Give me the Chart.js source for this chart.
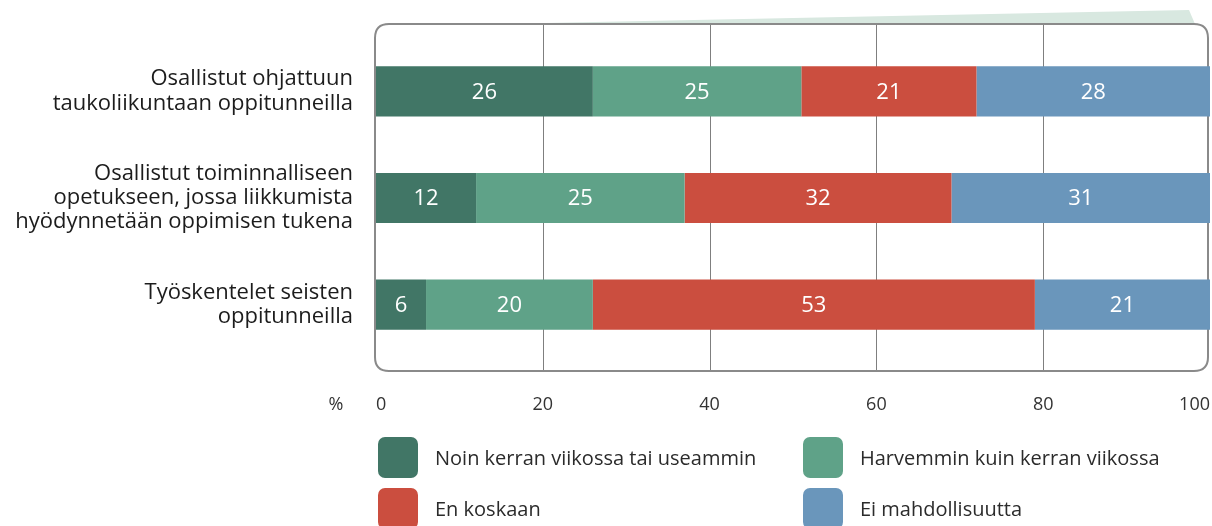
<!DOCTYPE html>
<html>
<head>
<meta charset="utf-8">
<script src="https://cdn.jsdelivr.net/npm/chart.js@4.4.0/dist/chart.umd.min.js"></script>
<style>
  html, body { margin: 0; padding: 0; background: #fff; }
  #wrap { position: relative; width: 1212px; height: 526px; overflow: hidden; }
  #legend {
    position: absolute; left: 378px; top: 437px;
    display: grid; grid-template-columns: 425px 360px; row-gap: 10px;
    font-family: 'Open Sans', sans-serif; font-size: 20px; color: #2b2b2b;
  }
  .lg-item { display: flex; align-items: center; height: 41px; white-space: nowrap; }
  .lg-box { width: 40px; height: 41px; border-radius: 7px; margin-right: 17px; flex: none; }
</style>
</head>
<body>
<div id="wrap">
  <canvas id="chart" width="1212" height="526"></canvas>
  <div id="legend"></div>
</div>
<script>
/* ── Data ── */
const categories = [
  ['Osallistut ohjattuun', 'taukoliikuntaan oppitunneilla'],
  ['Osallistut toiminnalliseen', 'opetukseen, jossa liikkumista', 'hyödynnetään oppimisen tukena'],
  ['Työskentelet seisten', 'oppitunneilla']
];
const seriesNames = [
  'Noin kerran viikossa tai useammin',
  'Harvemmin kuin kerran viikossa',
  'En koskaan',
  'Ei mahdollisuutta'
];
const weeklyOrMore = [26, 12, 6];
const lessThanWeekly = [25, 25, 20];
const never = [21, 32, 53];
const noPossibility = [28, 31, 21];
const xTicks = [0, 20, 40, 60, 80, 100];

const COLORS = ['#417666', '#5fa288', '#cb4e3f', '#6a96bb'];
const FONT = "'Open Sans', sans-serif";

/* ── Frame, wedge, gridlines behind the bars ── */
const framePlugin = {
  id: 'frame',
  beforeDatasetsDraw(chart) {
    const { ctx, chartArea: a, scales: { x } } = chart;
    const top = a.top - 14, bottom = a.bottom + 13;
    const left = a.left - 1, right = a.right - 2, r = 14;

    ctx.save();
    // light green wedge above the frame
    ctx.fillStyle = '#d8e8e0';
    ctx.beginPath();
    ctx.moveTo(496, top);
    ctx.lineTo(1189, top - 14);
    ctx.lineTo(1195, top);
    ctx.closePath();
    ctx.fill();

    // gridlines
    ctx.strokeStyle = '#7f7f7f';
    ctx.lineWidth = 1;
    xTicks.slice(1, -1).forEach(v => {
      const px = Math.round(x.getPixelForValue(v)) + 0.5;
      ctx.beginPath();
      ctx.moveTo(px, top);
      ctx.lineTo(px, bottom);
      ctx.stroke();
    });

    // rounded frame
    ctx.strokeStyle = '#8a8a8a';
    ctx.lineWidth = 2;
    ctx.beginPath();
    ctx.moveTo(left + r, top);
    ctx.lineTo(right - r, top);
    ctx.quadraticCurveTo(right, top, right, top + r);
    ctx.lineTo(right, bottom - r);
    ctx.quadraticCurveTo(right, bottom, right - r, bottom);
    ctx.lineTo(left + r, bottom);
    ctx.quadraticCurveTo(left, bottom, left, bottom - r);
    ctx.lineTo(left, top + r);
    ctx.quadraticCurveTo(left, top, left + r, top);
    ctx.stroke();
    ctx.restore();
  }
};

/* ── Value labels inside segments + "%" axis label ── */
const labelPlugin = {
  id: 'valueLabels',
  afterDatasetsDraw(chart) {
    const { ctx } = chart;
    ctx.save();
    ctx.fillStyle = '#fff';
    ctx.font = '22px ' + FONT;
    ctx.textAlign = 'center';
    ctx.textBaseline = 'middle';
    chart.data.datasets.forEach((ds, i) => {
      chart.getDatasetMeta(i).data.forEach((el, j) => {
        ctx.fillText(String(ds.data[j]), (el.x + el.base) / 2, el.y + 1);
      });
    });
    ctx.restore();
  },
  afterDraw(chart) {
    const { ctx, chartArea: a } = chart;
    ctx.save();
    ctx.fillStyle = '#333';
    ctx.font = '18px ' + FONT;
    ctx.textAlign = 'center';
    ctx.textBaseline = 'middle';
    ctx.fillText('%', 336, a.bottom + 47);
    ctx.restore();
  }
};

const datasets = [weeklyOrMore, lessThanWeekly, never, noPossibility].map((d, i) => ({
  label: seriesNames[i],
  data: d,
  backgroundColor: COLORS[i],
  borderWidth: 0,
  barPercentage: 0.47,
  categoryPercentage: 1
}));

new Chart(document.getElementById('chart'), {
  type: 'bar',
  data: { labels: categories, datasets },
  plugins: [framePlugin, labelPlugin],
  options: {
    indexAxis: 'y',
    responsive: false,
    animation: false,
    layout: { padding: { top: 38, right: 2, bottom: 108, left: 0 } },
    plugins: { legend: { display: false }, tooltip: { enabled: false } },
    scales: {
      x: {
        stacked: true, min: 0, max: 100,
        grid: { display: false, drawTicks: false },
        border: { display: false },
        ticks: {
          stepSize: 20, align: 'inner', padding: 36,
          color: '#333', font: { family: FONT, size: 18 }
        },
        afterFit(s) { s.height = 60; s.paddingLeft = 0; s.paddingRight = 0; }
      },
      y: {
        stacked: true,
        grid: { display: false, drawTicks: false },
        border: { display: false },
        ticks: {
          padding: 23, color: '#1c1c1c',
          font: { family: FONT, size: 22, weight: '500', lineHeight: 1.1 }
        },
        afterFit(s) { s.width = 376; s.paddingTop = 0; s.paddingBottom = 0; }
      }
    }
  }
});

/* ── Legend (2 columns) ── */
document.getElementById('legend').innerHTML = seriesNames.map((name, i) =>
  `<div class="lg-item"><span class="lg-box" style="background:${COLORS[i]}"></span>${name}</div>`
).join('');
</script>
</body>
</html>
